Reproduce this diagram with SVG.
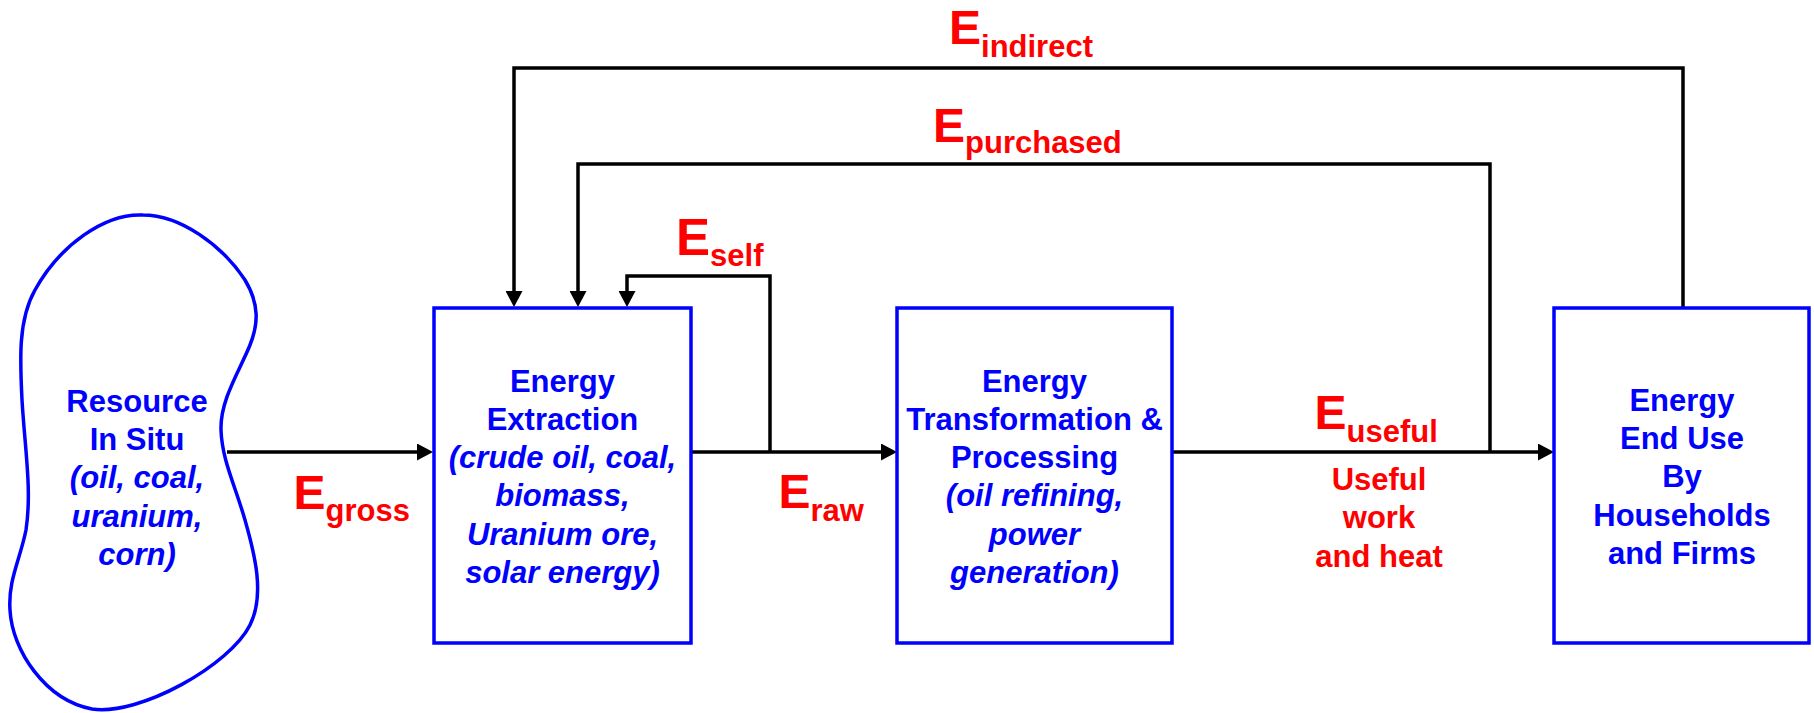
<svg xmlns="http://www.w3.org/2000/svg" width="1814" height="713" viewBox="0 0 1814 713">
<style>
.node{fill:#fff;stroke:#0000ff;stroke-width:3.5}
.nt{font-family:"Liberation Sans",Arial,sans-serif;font-weight:bold;font-size:31px;fill:#0000ff;text-anchor:middle}
.it{font-style:italic}
.lbl{font-family:"Liberation Sans",Arial,sans-serif;font-weight:bold;fill:#ff0000}
.big{font-size:48px}
.sub{font-size:31px}
.wire{fill:none;stroke:#000;stroke-width:3.5}
</style>
<defs>
<marker id="arr" markerWidth="17" markerHeight="17" refX="10" refY="8.5" orient="auto" markerUnits="userSpaceOnUse">
<path d="M0,0 L16,8.5 L0,17 Z" fill="#000"/>
</marker>
</defs>
<rect width="1814" height="713" fill="#fff"/>
<g id="connectors">
<path class="wire" d="M227,452 H427" marker-end="url(#arr)"/>
<path class="wire" d="M691,452 H891" marker-end="url(#arr)"/>
<path class="wire" d="M1172,452 H1548" marker-end="url(#arr)"/>
<path class="wire" d="M770,452 V276 H627 V301" marker-end="url(#arr)"/>
<path class="wire" d="M1490,452 V164 H578 V301" marker-end="url(#arr)"/>
<path class="wire" d="M1683,308 V68 H514 V301" marker-end="url(#arr)"/>
</g>
<g id="resource">
<path class="node" d="M143,215 C105,213 60,245 35,290 C18,320 20,360 22,400 C25,450 32,490 26,530 C20,560 8,580 10,610 C12,650 45,700 92,709 C140,716 230,665 250,625 C265,595 255,555 245,520 C235,485 222,460 221,430 C220,400 240,370 250,345 C258,325 260,305 245,280 C222,245 180,215 143,215 Z"/>
<text class="nt" x="137" y="412">Resource</text>
<text class="nt" x="137" y="450">In Situ</text>
<text class="nt it" x="137" y="488">(oil, coal,</text>
<text class="nt it" x="137" y="527">uranium,</text>
<text class="nt it" x="137" y="565">corn)</text>
</g>
<g id="extraction">
<rect class="node" x="434" y="308" width="257" height="335"/>
<text class="nt" x="562.5" y="392">Energy</text>
<text class="nt" x="562.5" y="430">Extraction</text>
<text class="nt it" x="562.5" y="468">(crude oil, coal,</text>
<text class="nt it" x="562.5" y="506">biomass,</text>
<text class="nt it" x="562.5" y="545">Uranium ore,</text>
<text class="nt it" x="562.5" y="583">solar energy)</text>
</g>
<g id="transformation">
<rect class="node" x="897" y="308" width="275" height="335"/>
<text class="nt" x="1034.5" y="392">Energy</text>
<text class="nt" x="1034.5" y="430">Transformation &amp;</text>
<text class="nt" x="1034.5" y="468">Processing</text>
<text class="nt it" x="1034.5" y="506">(oil refining,</text>
<text class="nt it" x="1034.5" y="545">power</text>
<text class="nt it" x="1034.5" y="583">generation)</text>
</g>
<g id="enduse">
<rect class="node" x="1554" y="308" width="255" height="335"/>
<text class="nt" x="1682" y="411">Energy</text>
<text class="nt" x="1682" y="449">End Use</text>
<text class="nt" x="1682" y="487">By</text>
<text class="nt" x="1682" y="526">Households</text>
<text class="nt" x="1682" y="564">and Firms</text>
</g>
<g id="labels">
<text class="lbl" x="293.5" y="509"><tspan class="big">E</tspan><tspan class="sub" dy="12">gross</tspan></text>
<text class="lbl" x="778.5" y="508"><tspan class="big">E</tspan><tspan class="sub" dy="13">raw</tspan></text>
<text class="lbl" x="676" y="255"><tspan class="big" style="font-size:51px">E</tspan><tspan class="sub" dy="11">self</tspan></text>
<text class="lbl" x="949" y="44"><tspan class="big">E</tspan><tspan class="sub" dy="13">indirect</tspan></text>
<text class="lbl" x="933" y="142"><tspan class="big">E</tspan><tspan class="sub" dy="11">purchased</tspan></text>
<text class="lbl" x="1314.5" y="429"><tspan class="big">E</tspan><tspan class="sub" dy="13">useful</tspan></text>
<text class="lbl sub" x="1379" y="490" text-anchor="middle">Useful</text>
<text class="lbl sub" x="1379" y="528" text-anchor="middle">work</text>
<text class="lbl sub" x="1379" y="567" text-anchor="middle">and heat</text>
</g>
</svg>
